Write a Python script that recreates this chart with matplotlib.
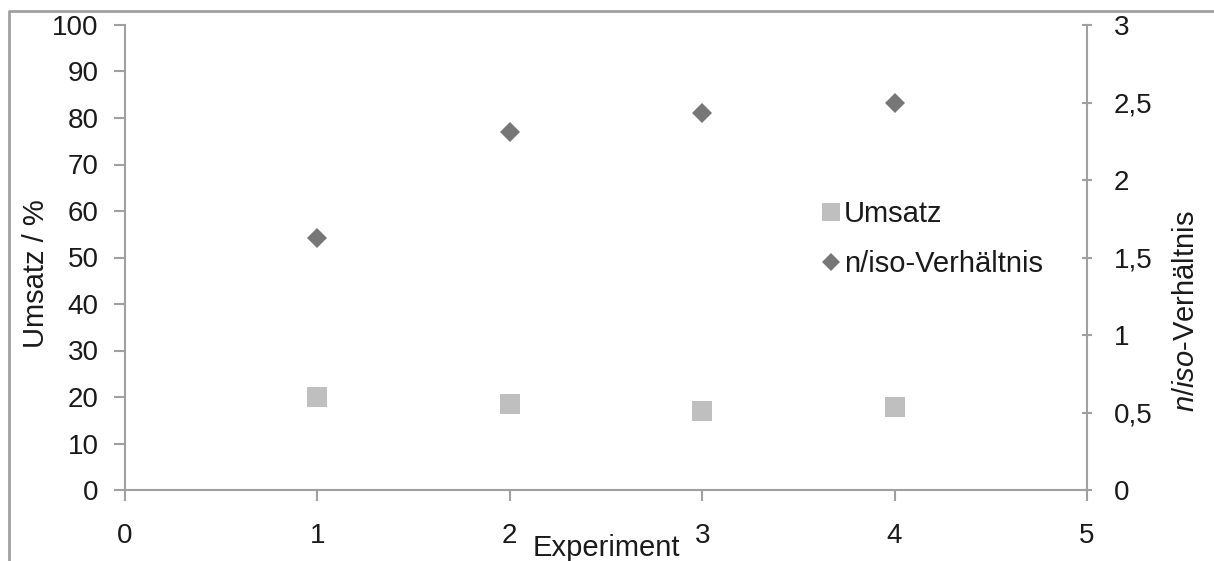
import matplotlib
matplotlib.use("Agg")
import matplotlib.pyplot as plt
from matplotlib.lines import Line2D
from matplotlib.ticker import FuncFormatter, MultipleLocator

plt.rcParams['font.family'] = ['Liberation Sans', 'DejaVu Sans']
plt.rcParams['mathtext.fontset'] = 'custom'
plt.rcParams['mathtext.rm'] = 'Liberation Sans'
plt.rcParams['mathtext.it'] = 'Liberation Sans:italic'

# Data
experiment = [1, 2, 3, 4]
umsatz = [20.0, 18.5, 16.9, 17.9]          # conversion in %
n_iso = [1.625, 2.31, 2.43, 2.50]          # n/iso ratio

W, H, DPI = 1214, 561, 100
fig = plt.figure(figsize=(W / DPI, H / DPI), dpi=DPI)

axis_col = '#a0a0a0'
text_col = '#1a1a1a'
fs = 20
fs_lab = 21

ax = fig.add_axes([125 / W, 1 - 490 / H, (1087 - 125) / W, (490 - 25) / H])
ax2 = ax.twinx()

ax.plot(experiment, umsatz, linestyle='none', marker='s', markersize=14.5,
        color='#bfbfbf', markeredgewidth=0, label='Umsatz', zorder=3)
ax2.plot(experiment, n_iso, linestyle='none', marker='D', markersize=10.5,
         color='#777777', markeredgewidth=0, label='n/iso-Verhältnis', zorder=3)

ax.set_xlim(0, 5)
ax.set_ylim(0, 100)
ax2.set_ylim(0, 3)
ax.xaxis.set_major_locator(MultipleLocator(1))
ax.yaxis.set_major_locator(MultipleLocator(10))
ax2.yaxis.set_major_locator(MultipleLocator(0.5))
ax2.yaxis.set_major_formatter(FuncFormatter(lambda v, p: f"{v:g}".replace('.', ',')))

for a in (ax, ax2):
    a.patch.set_visible(False)
    a.spines['top'].set_visible(False)
    for s in ('left', 'right', 'bottom'):
        a.spines[s].set_color(axis_col)
        a.spines[s].set_linewidth(1.5)
ax.spines['right'].set_visible(False)
ax2.spines['left'].set_visible(False)
ax2.spines['bottom'].set_visible(False)

ax.tick_params(axis='both', colors=axis_col, labelcolor=text_col, labelsize=fs,
               width=1.5, length=8, direction='out')
ax.tick_params(axis='y', pad=11)
ax.tick_params(axis='x', pad=16)
ax2.tick_params(axis='y', colors=axis_col, labelcolor=text_col, labelsize=fs,
                width=1.5, length=7, direction='inout', pad=16)

ax.set_xlabel('Experiment', fontsize=fs_lab, color=text_col)
ax.xaxis.label.set_verticalalignment('center')
ax.xaxis.set_label_coords(0.5, (490 - 548) / 465)
ax.set_ylabel('Umsatz / %', fontsize=fs_lab, color=text_col)
ax2.set_ylabel(r'$\mathit{n/iso}$-Verhältnis', fontsize=fs_lab, color=text_col)
for lab in (ax.yaxis.label, ax2.yaxis.label):
    lab.set_verticalalignment('center')
    lab.set_horizontalalignment('center')
ax.yaxis.set_label_coords(-0.0925, 0.465)
ax2.yaxis.set_label_coords(1.103, 0.385)

h1, l1 = ax.get_legend_handles_labels()
h2, l2 = ax2.get_legend_handles_labels()
fig.legend(h1 + h2, l1 + l2, loc='upper left',
           bbox_to_anchor=(822 / W, 1 - 200 / H), frameon=False,
           fontsize=fs_lab, handlelength=0.6, handletextpad=0.15,
           labelspacing=0.76, markerscale=0.85, labelcolor=text_col,
           borderaxespad=0, borderpad=0)

# Outer frame
fig.add_artist(Line2D([8.5 / W, 8.5 / W, 1.0], [0.0, 1 - 11 / H, 1 - 11 / H],
                      transform=fig.transFigure, color=axis_col, linewidth=2))

fig.savefig('out.png', dpi=DPI)
